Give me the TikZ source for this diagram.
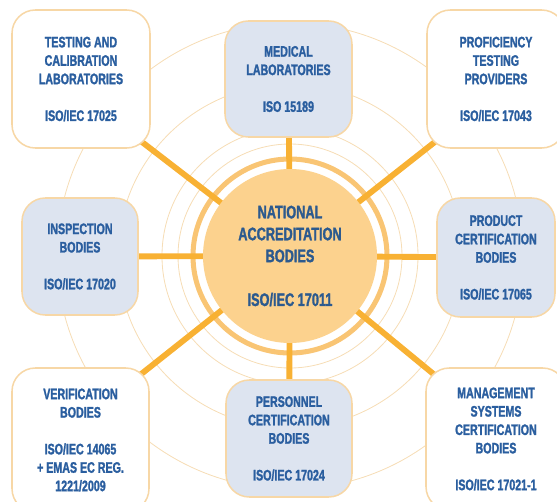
\documentclass[tikz,border=0pt]{standalone}
\usepackage{fontspec}
\newfontfamily\condfont{Liberation Sans Bold}[FakeStretch=0.7,FakeBold=1.5]
\usetikzlibrary{backgrounds}

\definecolor{spokeorange}{HTML}{F8B133}
\definecolor{ringorange}{HTML}{F9C574}
\definecolor{coreorange}{HTML}{FCD28E}
\definecolor{thinorange}{HTML}{F6DDB6}
\definecolor{boxborder}{HTML}{F7D7A6}
\definecolor{boxblue}{HTML}{DDE4F0}
\definecolor{textblue}{HTML}{2A5E9F}
\definecolor{coreblue}{HTML}{2C5A8E}

\tikzset{
  body/.style={draw=boxborder,line width=1.3pt,rounded corners=0.7cm,inner sep=0pt,align=center,text=textblue,font=\condfont\fontsize{13}{15.7}\selectfont},
  whitebody/.style={body,fill=white},
  bluebody/.style={body,fill=boxblue},
  spoke/.style={spokeorange,line width=5pt},
  thinring/.style={thinorange,line width=0.7pt}
}

\begin{document}
\begin{tikzpicture}[x=0.03cm,y=-0.03cm]
\clip (0,0) rectangle (557,501);
% centre
\node[circle,fill=coreorange,minimum size=5.22cm,inner sep=0pt,align=center,text=coreblue,font=\condfont\fontsize{15.5}{18.7}\selectfont] (nab) at (290,256) {NATIONAL\\ACCREDITATION\\BODIES\\[18.7pt]ISO/IEC 17011};
% top row
\node[whitebody,minimum width=4.14cm,minimum height=4.14cm] (testlab) at (81,79) {TESTING AND\\CALIBRATION\\LABORATORIES\\[15.7pt]ISO/IEC 17025};
\node[bluebody,minimum width=3.81cm,minimum height=3.48cm] (medlab) at (288.5,79) {MEDICAL\\LABORATORIES\\[15.7pt]ISO 15189};
\node[whitebody,minimum width=4.14cm,minimum height=4.14cm] (ptprov) at (496,79) {PROFICIENCY\\TESTING\\PROVIDERS\\[15.7pt]ISO/IEC 17043};
% middle row
\node[bluebody,minimum width=3.48cm,minimum height=3.51cm] (inspect) at (80,256.5) {INSPECTION\\BODIES\\[15.7pt]ISO/IEC 17020};
\node[bluebody,minimum width=3.54cm,minimum height=3.57cm] (prodcert) at (496,257.5) {PRODUCT\\CERTIFICATION\\BODIES\\[15.7pt]ISO/IEC 17065};
% bottom row
\node[whitebody,minimum width=4.11cm,minimum height=4.32cm] (verif) at (80.5,440) {VERIFICATION\\BODIES\\[15.7pt]ISO/IEC 14065\\+ EMAS EC REG.\\1221/2009};
\node[bluebody,minimum width=3.78cm,minimum height=3.51cm] (perscert) at (289,438.5) {PERSONNEL\\CERTIFICATION\\BODIES\\[15.7pt]ISO/IEC 17024};
\node[whitebody,minimum width=4.2cm,minimum height=4.26cm] (mgmtcert) at (496,439) {MANAGEMENT\\SYSTEMS\\CERTIFICATION\\BODIES\\[15.7pt]ISO/IEC 17021-1};

\begin{scope}[on background layer]
\foreach \r in {112,128,172,233}
  \draw[thinring] (nab.center) circle[radius=\r*0.03cm];
\draw[ringorange,line width=4.3pt] (nab.center) circle[radius=2.91cm];
% spokes
\draw[spoke] (nab.center) -- (medlab.center);
\draw[spoke] (nab.center) -- (perscert.center);
\draw[spoke] (nab.center) -- (inspect.center);
\draw[spoke] (nab.center) -- (prodcert.center);
\draw[spoke,shorten >=-0.6cm] (nab.center) -- (testlab.south east);
\draw[spoke,shorten >=-0.6cm] (nab.center) -- (ptprov.south west);
\draw[spoke,shorten >=-0.6cm] (nab.center) -- (verif.north east);
\draw[spoke,shorten >=-0.6cm] (nab.center) -- (mgmtcert.north west);
\end{scope}
\end{tikzpicture}
\end{document}
